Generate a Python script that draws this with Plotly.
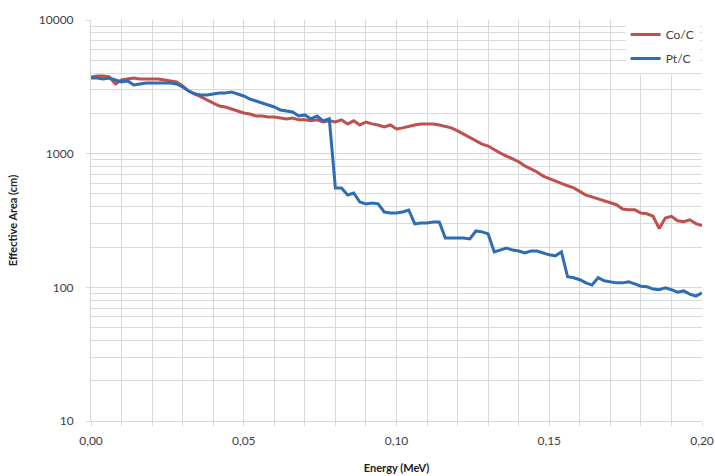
import numpy as np
import plotly.graph_objects as go

# Energy grid (MeV), step 0.002
energy = [round(i * 0.002, 3) for i in range(101)]

co_c = [3750, 3810, 3810, 3750, 3320, 3560, 3620, 3680, 3620, 3620,
        3620, 3620, 3560, 3500, 3440, 3210, 2940, 2800, 2660, 2520,
        2390, 2270, 2235, 2160, 2090, 2015, 1980, 1915, 1915, 1880,
        1880, 1850, 1820, 1850, 1790, 1790, 1760, 1790, 1725, 1760,
        1725, 1790, 1670, 1760, 1640, 1725, 1670, 1640, 1585, 1640,
        1530, 1560, 1610, 1640, 1670, 1670, 1670, 1640, 1610, 1560,
        1480, 1400, 1310, 1245, 1180, 1140, 1065, 1010, 960, 915,
        870, 810, 770, 730, 680, 650, 625, 595, 575, 555,
        525, 490, 475, 460, 445, 430, 415, 385, 380, 380,
        360, 355, 340, 275, 330, 340, 315, 310, 320, 300,
        290]

pt_c = [3680, 3680, 3620, 3680, 3560, 3440, 3500, 3265, 3320, 3380,
        3380, 3380, 3380, 3380, 3320, 3155, 2945, 2795, 2750, 2750,
        2795, 2845, 2845, 2895, 2795, 2700, 2565, 2480, 2395, 2315,
        2235, 2120, 2085, 2050, 1915, 1950, 1820, 1915, 1755, 1820,
        554, 554, 491, 508, 435, 421, 428, 421, 366, 360,
        360, 366, 379, 298, 303, 303, 308, 308, 234, 234,
        234, 234, 230, 264, 260, 251, 184, 190, 197, 190,
        187, 181, 187, 187, 181, 175, 172, 184, 120, 118,
        114, 108, 104, 118, 112, 110, 108, 108, 110, 106,
        102, 101, 97, 96, 99, 96, 92, 94, 89, 86,
        91]

x_tickvals = [0.0, 0.05, 0.10, 0.15, 0.20]
x_ticktext = ["0,00", "0,05", "0,10", "0,15", "0,20"]
y_major = [10, 100, 1000, 10000]
y_major_text = ["10", "100", "1000", "10000"]
y_minor = [m * 10 ** d for d in range(1, 4) for m in range(2, 10)]

RED = "#C0504D"
BLUE = "#2C6DB5"
GRID = "#D9D9D9"
TXT = "#404040"
FONT = "Lato, 'Liberation Sans', sans-serif"

fig = go.Figure()
fig.add_trace(go.Scatter(x=energy, y=co_c, mode="lines", name="Co/C",
                         line=dict(color=RED, width=3), legendgroup="a"))
fig.add_trace(go.Scatter(x=energy, y=pt_c, mode="lines", name="Pt/C",
                         line=dict(color=BLUE, width=3), legendgroup="b"))

fig.update_layout(
    width=715, height=476,
    margin=dict(l=91, r=13, t=20, b=55, autoexpand=False),
    paper_bgcolor="white", plot_bgcolor="white",
    font=dict(family=FONT, size=12, color=TXT),
    showlegend=True,
    legend=dict(x=0.875, y=1.0, xanchor="left", yanchor="top",
                bgcolor="white", font=dict(size=12, color=TXT),
                tracegroupgap=5, traceorder="grouped", itemwidth=30),
    xaxis=dict(
        range=[0, 0.2], tickvals=x_tickvals, ticktext=x_ticktext,
        showgrid=True, gridcolor=GRID, gridwidth=1,
        minor=dict(dtick=0.01, tick0=0, showgrid=True, gridcolor=GRID,
                   ticks="outside", ticklen=4, tickcolor=GRID),
        ticks="outside", ticklen=4, tickcolor=GRID,
        showline=True, linecolor=GRID, linewidth=1,
        zeroline=False, ticklabelstandoff=5, automargin=False,
        tickfont=dict(size=12, color=TXT),
        title=dict(text="<b>Energy (MeV)</b>", font=dict(size=11, color="#202020"), standoff=16),
    ),
    yaxis=dict(
        type="log", range=[1, 4],
        tickvals=y_major, ticktext=y_major_text,
        showgrid=True, gridcolor=GRID, gridwidth=1,
        minor=dict(tickvals=y_minor, showgrid=True, gridcolor=GRID, ticks=""),
        ticks="outside", ticklen=4, tickcolor=GRID,
        showline=True, linecolor=GRID, linewidth=1,
        zeroline=False, ticklabelstandoff=10, automargin=False,
        tickfont=dict(size=12, color=TXT),
        title=dict(text="<b>Effective Area (cm)</b>", font=dict(size=11, color="#202020"), standoff=18),
    ),
)

fig.write_html("out.html")
